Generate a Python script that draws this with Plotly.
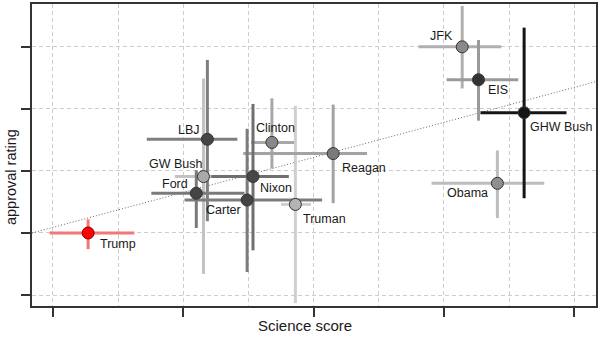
import plotly.graph_objects as go

# ---- data (abstract units: science score on x, approval rating on y) ----
names = ["Truman", "GW Bush", "Obama", "JFK", "Clinton", "Reagan", "Carter",
         "Ford", "Nixon", "LBJ", "EIS", "GHW Bush", "Trump"]
science = [3.72, 2.31, 6.82, 6.28, 3.36, 4.30, 2.98, 2.20, 3.07, 2.37, 6.53, 7.23, 0.54]
science_lo = [3.50, 1.87, 5.81, 5.61, 3.04, 2.92, 2.02, 1.51, 2.43, 1.44, 6.04, 6.56, -0.05]
science_hi = [3.96, 2.68, 7.54, 6.88, 3.70, 4.82, 4.13, 2.94, 3.62, 2.83, 7.14, 7.88, 1.25]
approval = [1.46, 1.91, 1.80, 4.00, 2.46, 2.28, 1.53, 1.64, 1.91, 2.51, 3.47, 2.94, 1.00]
approval_lo = [-0.13, 0.34, 1.24, 3.33, 2.04, 1.48, 0.37, 1.08, 0.72, 1.19, 2.81, 1.56, 0.74]
approval_hi = [3.05, 3.49, 2.33, 4.66, 3.17, 3.07, 2.68, 2.01, 3.08, 3.79, 4.11, 4.31, 1.22]
trend_x = [-0.32, 8.33]
trend_y = [1.00, 3.44]

# ---- styles ----
line_colors = {"Truman": "#cfcfcf", "GW Bush": "#c2c2c2", "Obama": "#bdbdbd", "JFK": "#b0b0b0",
               "Clinton": "#a8a8a8", "Reagan": "#a3a3a3", "Carter": "#7c7c7c", "Ford": "#7a7a7a",
               "Nixon": "#6f6f6f", "LBJ": "#7e7e7e", "EIS": "#9a9a9a", "GHW Bush": "#151515",
               "Trump": "#f27777"}
marker_colors = {"Truman": "#b4b4b4", "GW Bush": "#a9a9a9", "Obama": "#8f8f8f", "JFK": "#8a8a8a",
                 "Clinton": "#888888", "Reagan": "#7a7a7a", "Carter": "#444444", "Ford": "#454545",
                 "Nixon": "#474747", "LBJ": "#454545", "EIS": "#333333", "GHW Bush": "#151515",
                 "Trump": "#ff0000"}
# label placement: (xanchor, xshift px, yshift px)
label_place = {"Truman": ("left", 6, -15), "GW Bush": ("right", 2, 13), "Obama": ("right", -7, -10),
               "JFK": ("right", -7, 11), "Clinton": ("center", 4, 14), "Reagan": ("left", 7, -14),
               "Carter": ("right", -4, -10), "Ford": ("right", -6, 9), "Nixon": ("left", 5, -11),
               "LBJ": ("right", -5, 9), "EIS": ("left", 8, -10), "GHW Bush": ("left", 4, -14),
               "Trump": ("left", 10, -11)}
FONT = "Liberation Sans, Arial, sans-serif"

fig = go.Figure()

# trend line
fig.add_trace(go.Scatter(x=trend_x, y=trend_y, mode="lines",
                         line=dict(color="#666666", width=1, dash="1px,2px"),
                         hoverinfo="skip", showlegend=False))

# error crosses
for i, n in enumerate(names):
    fig.add_trace(go.Scatter(
        x=[science[i]], y=[approval[i]], mode="markers",
        marker=dict(size=1, opacity=0),
        error_x=dict(type="data", symmetric=False,
                     array=[science_hi[i] - science[i]],
                     arrayminus=[science[i] - science_lo[i]],
                     color=line_colors[n], thickness=3, width=0),
        error_y=dict(type="data", symmetric=False,
                     array=[approval_hi[i] - approval[i]],
                     arrayminus=[approval[i] - approval_lo[i]],
                     color=line_colors[n], thickness=3, width=0),
        hoverinfo="skip", showlegend=False))

# points
fig.add_trace(go.Scatter(
    x=science, y=approval, mode="markers", text=names,
    marker=dict(size=12, color=[marker_colors[n] for n in names],
                line=dict(color=["#8b0000" if n == "Trump" else "#333333" for n in names], width=1)),
    showlegend=False))

for i, n in enumerate(names):
    xa, xs, ys = label_place[n]
    fig.add_annotation(x=science[i], y=approval[i], text=n, showarrow=False,
                       xanchor=xa, yanchor="middle", xshift=xs, yshift=ys,
                       font=dict(family=FONT, size=12.5, color="#1a1a1a"))

fig.add_annotation(xref="paper", yref="paper", x=0.484, y=-0.066, text="Science score",
                   showarrow=False, xanchor="center", yanchor="middle",
                   font=dict(family=FONT, size=15, color="#1a1a1a"))
fig.add_annotation(xref="paper", yref="paper", x=-0.036, y=0.426, text="approval rating",
                   showarrow=False, textangle=-90, xanchor="center", yanchor="middle",
                   font=dict(family=FONT, size=14.5, color="#1a1a1a"))

grid_style = dict(gridcolor="#cccccc", griddash="4px,3px", gridwidth=1)
fig.update_xaxes(range=[-0.321, 8.333], tickmode="array", tickvals=[0, 2, 4, 6, 8],
                 showticklabels=False, ticks="outside", ticklen=9, tickwidth=1.5, tickcolor="#333333",
                 showline=True, linecolor="#333333", linewidth=1.8, mirror=True,
                 zeroline=False, showgrid=True, **grid_style,
                 minor=dict(tickvals=[1, 3, 5, 7], showgrid=True, ticks="", **grid_style))
fig.update_yaxes(range=[-0.177, 4.691], tickmode="array", tickvals=[0, 1, 2, 3, 4],
                 showticklabels=False, ticks="outside", ticklen=9, tickwidth=1.5, tickcolor="#333333",
                 showline=True, linecolor="#333333", linewidth=1.8, mirror=True,
                 zeroline=False, showgrid=True, **grid_style)

fig.update_layout(width=600, height=340, margin=dict(l=32, r=2, t=3, b=34),
                  plot_bgcolor="white", paper_bgcolor="white", showlegend=False)

fig.write_html("out.html")
